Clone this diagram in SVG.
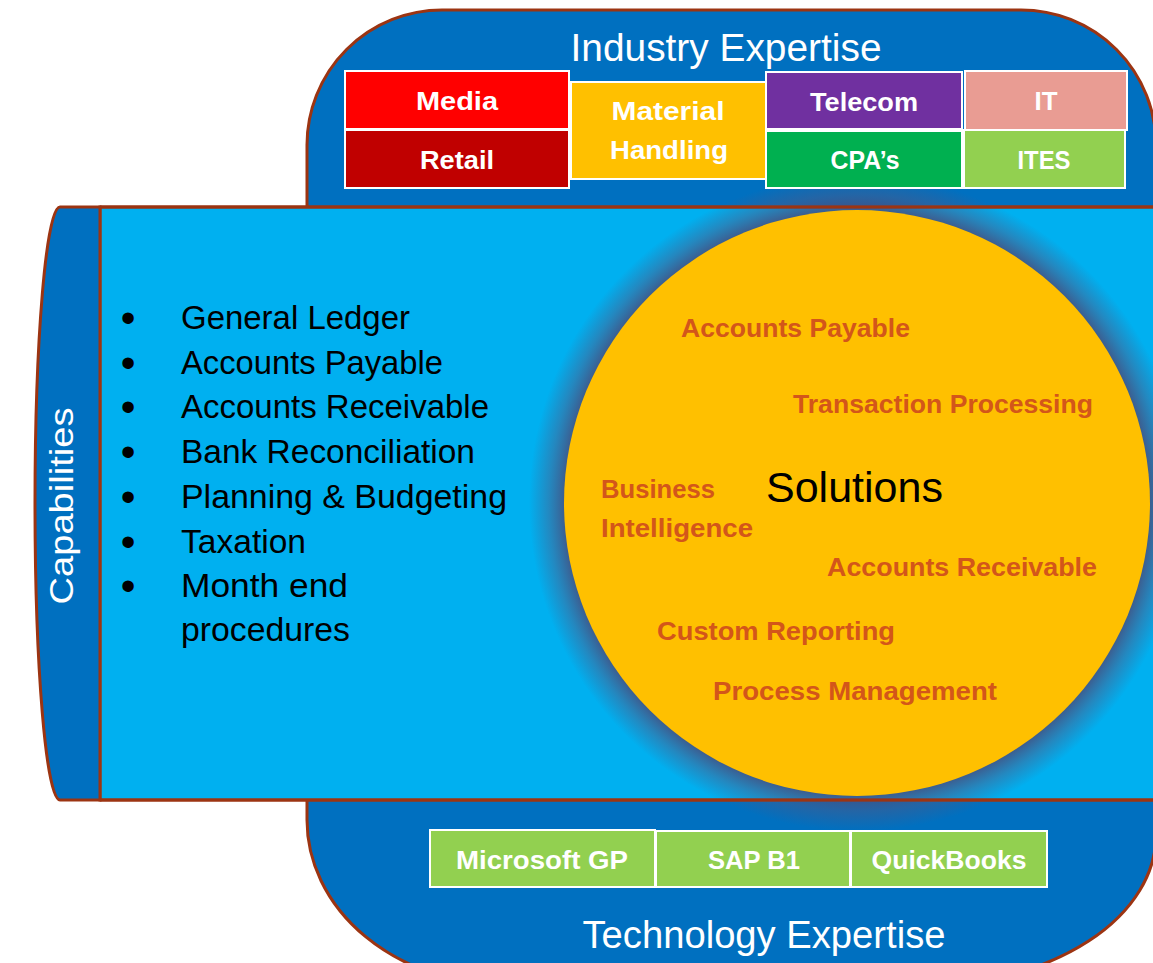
<svg xmlns="http://www.w3.org/2000/svg" width="1153" height="963" viewBox="0 0 1153 963">
<defs>
<style>
.f{font-family:"Liberation Sans",Arial,sans-serif}
.lbl{font-family:"Liberation Sans",Arial,sans-serif;font-weight:bold;fill:#fff;font-size:26px;text-anchor:middle}
.sol{font-family:"Liberation Sans",Arial,sans-serif;font-weight:bold;fill:#D3561A;font-size:26.5px}
.cap{font-family:"Liberation Sans",Arial,sans-serif;font-size:32.5px;fill:#000}
.bul{font-family:"Liberation Sans",Arial,sans-serif;font-size:42px;fill:#000;text-anchor:middle}
.hdr{font-family:"Liberation Sans",Arial,sans-serif;font-size:39px;fill:#fff;text-anchor:middle}
.brd{stroke:#fff;stroke-width:2}
.brown{stroke:#9C3412;stroke-width:3}
</style>
<radialGradient id="glow" gradientUnits="userSpaceOnUse" cx="857" cy="503" r="328">
<stop offset="0" stop-color="#4A4675" stop-opacity="0.9"/>
<stop offset="0.885" stop-color="#4A4675" stop-opacity="0.85"/>
<stop offset="0.94" stop-color="#4E5886" stop-opacity="0.45"/>
<stop offset="1" stop-color="#4E5886" stop-opacity="0"/>
</radialGradient>
</defs>
<rect width="1153" height="963" fill="#fff"/>
<g id="outer">
<path class="brown" fill="#0070C0" d="M307,145 A135 135 0 0 1 442,10 L1021,10 A135 135 0 0 1 1156,145 L1156,835 A230 150 0 0 1 926,985 L507,985 A200 165 0 0 1 307,820 Z"/>
</g>
<g id="band">
<rect class="brown" x="100" y="207" width="1070" height="593" fill="#00B0F0"/>
</g>
<g id="capabilities-tab">
<path class="brown" fill="#0070C0" d="M100,207 L60,207 A25 296.5 0 0 0 60,800 L100,800 Z"/>
<text class="f" transform="translate(73,506) rotate(-90)" font-size="34" fill="#fff" text-anchor="middle" textLength="197" lengthAdjust="spacingAndGlyphs">Capabilities</text>
</g>
<g id="solutions">
<circle cx="857" cy="503" r="328" fill="url(#glow)"/>
<circle cx="857" cy="503" r="293" fill="#FFC000"/>
<line class="brown" x1="100" y1="207" x2="1153" y2="207"/>
<line class="brown" x1="100" y1="800" x2="1153" y2="800"/>
<text class="f" x="766" y="502" font-size="43" fill="#000" textLength="177" lengthAdjust="spacingAndGlyphs">Solutions</text>
<text class="sol" x="681" y="337" textLength="229" lengthAdjust="spacingAndGlyphs">Accounts Payable</text>
<text class="sol" x="793" y="413" textLength="300" lengthAdjust="spacingAndGlyphs">Transaction Processing</text>
<text class="sol" x="601" y="498" textLength="114" lengthAdjust="spacingAndGlyphs">Business</text>
<text class="sol" x="601" y="537" textLength="152" lengthAdjust="spacingAndGlyphs">Intelligence</text>
<text class="sol" x="827" y="576" textLength="270" lengthAdjust="spacingAndGlyphs">Accounts Receivable</text>
<text class="sol" x="657" y="640" textLength="238" lengthAdjust="spacingAndGlyphs">Custom Reporting</text>
<text class="sol" x="713" y="700" textLength="284" lengthAdjust="spacingAndGlyphs">Process Management</text>
</g>
<g id="capability-list">
<text class="bul" x="128" y="332">•</text>
<text class="bul" x="128" y="377">•</text>
<text class="bul" x="128" y="421">•</text>
<text class="bul" x="128" y="466">•</text>
<text class="bul" x="128" y="511">•</text>
<text class="bul" x="128" y="556">•</text>
<text class="bul" x="128" y="600">•</text>
<text class="cap" x="181" y="329" textLength="229" lengthAdjust="spacingAndGlyphs">General Ledger</text>
<text class="cap" x="181" y="374" textLength="262" lengthAdjust="spacingAndGlyphs">Accounts Payable</text>
<text class="cap" x="181" y="418" textLength="308" lengthAdjust="spacingAndGlyphs">Accounts Receivable</text>
<text class="cap" x="181" y="463" textLength="294" lengthAdjust="spacingAndGlyphs">Bank Reconciliation</text>
<text class="cap" x="181" y="508" textLength="326" lengthAdjust="spacingAndGlyphs">Planning &amp; Budgeting</text>
<text class="cap" x="181" y="553" textLength="125" lengthAdjust="spacingAndGlyphs">Taxation</text>
<text class="cap" x="181" y="597" textLength="167" lengthAdjust="spacingAndGlyphs">Month end</text>
<text class="cap" x="181" y="641" textLength="169" lengthAdjust="spacingAndGlyphs">procedures</text>
</g>
<g id="industry-expertise">
<text class="hdr" x="726" y="61" textLength="311" lengthAdjust="spacingAndGlyphs">Industry Expertise</text>
</g>
<g id="media"><rect class="brd" x="345" y="71" width="224" height="58" fill="#FF0000"/><text class="lbl" x="457" y="110" textLength="82" lengthAdjust="spacingAndGlyphs">Media</text></g>
<g id="retail"><rect class="brd" x="345" y="130" width="224" height="58" fill="#C00000"/><text class="lbl" x="457" y="169" textLength="74" lengthAdjust="spacingAndGlyphs">Retail</text></g>
<g id="material-handling"><rect class="brd" x="571" y="82" width="195" height="97" fill="#FFC000"/><text class="lbl" x="668" y="120" textLength="113" lengthAdjust="spacingAndGlyphs">Material</text><text class="lbl" x="669" y="159" textLength="118" lengthAdjust="spacingAndGlyphs">Handling</text></g>
<g id="telecom"><rect class="brd" x="766" y="72" width="196" height="57" fill="#7030A0"/><text class="lbl" x="864" y="111" textLength="108" lengthAdjust="spacingAndGlyphs">Telecom</text></g>
<g id="it"><rect class="brd" x="965" y="71" width="162" height="59" fill="#E99C93"/><text class="lbl" x="1046" y="110" textLength="23" lengthAdjust="spacingAndGlyphs">IT</text></g>
<g id="cpas"><rect class="brd" x="766" y="131" width="196" height="57" fill="#00B050"/><text class="lbl" x="865" y="169" textLength="69" lengthAdjust="spacingAndGlyphs">CPA’s</text></g>
<g id="ites"><rect class="brd" x="964" y="130" width="161" height="58" fill="#92D050"/><text class="lbl" x="1044" y="169" textLength="53" lengthAdjust="spacingAndGlyphs">ITES</text></g>
<g id="microsoft-gp"><rect class="brd" x="430" y="830" width="225" height="57" fill="#92D050"/><text class="lbl" x="542" y="869" textLength="172" lengthAdjust="spacingAndGlyphs">Microsoft GP</text></g>
<g id="sap-b1"><rect class="brd" x="656" y="831" width="194" height="56" fill="#92D050"/><text class="lbl" x="754" y="869" textLength="92" lengthAdjust="spacingAndGlyphs">SAP B1</text></g>
<g id="quickbooks"><rect class="brd" x="851" y="831" width="196" height="56" fill="#92D050"/><text class="lbl" x="949" y="869" textLength="155" lengthAdjust="spacingAndGlyphs">QuickBooks</text></g>
<g id="technology-expertise">
<text class="hdr" x="764" y="948" textLength="363" lengthAdjust="spacingAndGlyphs">Technology Expertise</text>
</g>
</svg>
